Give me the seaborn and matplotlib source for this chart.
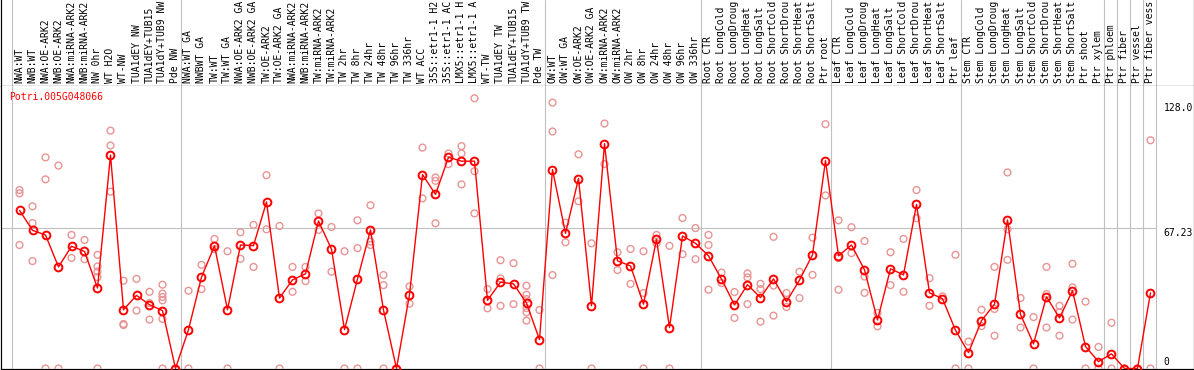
import matplotlib
matplotlib.use("Agg")
import matplotlib.pyplot as plt
import numpy as np
import pandas as pd
import seaborn as sns

gene_id = "Potri.005G048066"

categories = [
    "NWA:WT", "NWB:WT", "NWA:OE-ARK2", "NWB:OE-ARK2", "NWA:miRNA-ARK2", "NWB:miRNA-ARK2",
    "NW 0hr", "WT H2O", "WT-NW", "TUA1dEY NW", "TUA1dEY+TUB15 NW", "TUA1dY+TUB9 NW", "Pde NW",
    "NWA:WT GA", "NWBWT GA", "TW:WT", "TW:WT GA", "NWA:OE-ARK2 GA", "NWB:OE-ARK2 GA",
    "TW:OE-ARK2", "TW:OE-ARK2 GA", "NWA:miRNA-ARK2 GA", "NWB:miRNA-ARK2 GA", "TW:miRNA-ARK2",
    "TW:miRNA-ARK2 GA", "TW 2hr", "TW 8hr", "TW 24hr", "TW 48hr", "TW 96hr", "TW 336hr", "WT ACC",
    "35S::etr1-1 H2O", "35S::etr1-1 ACC", "LMX5::etr1-1 H2O", "LMX5::etr1-1 ACC", "WT-TW",
    "TUA1dEY TW", "TUA1dEY+TUB15 TW", "TUA1dY+TUB9 TW", "Pde TW",
    "OW:WT", "OW:WT GA", "OW:OE-ARK2", "OW:OE-ARK2 GA", "OW:miRNA-ARK2", "OW:miRNA-ARK2 GA",
    "OW 2hr", "OW 8hr", "OW 24hr", "OW 48hr", "OW 96hr", "OW 336hr",
    "Root CTR", "Root LongCold", "Root LongDrought", "Root LongHeat", "Root LongSalt",
    "Root ShortCold", "Root ShortDrought", "Root ShortHeat", "Root ShortSalt", "Ptr root",
    "Leaf CTR", "Leaf LongCold", "Leaf LongDrought", "Leaf LongHeat", "Leaf LongSalt",
    "Leaf ShortCold", "Leaf ShortDrought", "Leaf ShortHeat", "Leaf ShortSalt", "Ptr leaf",
    "Stem CTR", "Stem LongCold", "Stem LongDrought", "Stem LongHeat", "Stem LongSalt",
    "Stem ShortCold", "Stem ShortDrought", "Stem ShortHeat", "Stem ShortSalt", "Ptr shoot",
    "Ptr xylem", "Ptr phloem", "Ptr fiber", "Ptr vessel", "Ptr fiber vessel",
]

mean_expr = [
    75.7, 66.1, 63.9, 48.6, 58.5, 56.0, 38.5, 102.1, 28.1, 35.0, 30.5, 27.7, 0.0,
    18.6, 43.7, 58.7, 28.1, 59.1, 58.8, 79.7, 33.7, 42.4, 45.3, 70.6, 57.1, 18.6, 42.8,
    66.3, 28.0, 0.0, 35.3, 92.8, 83.3, 101.1, 99.2, 99.2, 32.6, 41.3, 40.5, 31.3, 13.8,
    95.2, 64.7, 90.9, 30.0, 107.6, 51.5, 49.1, 30.8, 61.8, 19.6, 63.4, 59.9,
    53.9, 42.8, 30.4, 40.1, 33.9, 42.9, 32.0, 42.3, 54.4, 99.5,
    53.9, 59.1, 47.2, 23.2, 47.7, 44.8, 78.5, 36.2, 33.4, 18.3,
    7.6, 22.9, 30.8, 71.1, 25.9, 11.8, 34.3, 24.2, 37.2, 10.5,
    3.3, 7.0, 0.0, 0.0, 36.2,
]

replicates = [
    [85.4, 83.8, 59.1], [77.6, 69.6, 51.4], [101.0, 90.5, 0.0], [97.1, 0.0], [63.9, 52.9],
    [61.5, 52.3], [54.4, 48.8, 46.4, 43.7, 0.0], [113.8, 106.7, 84.6], [42.0, 21.3, 20.8],
    [42.9, 27.7], [36.7, 31.3, 23.4], [40.1, 35.8, 34.2, 32.6, 23.7, 0.0], [0.0, 0.0],
    [37.2, 0.0], [49.6, 38.0], [62.0, 57.1], [56.1, 0.0], [65.2, 52.5], [68.7, 48.6],
    [92.5, 66.6], [68.2, 0.0], [48.6, 36.7], [48.6, 41.8], [74.2, 66.3], [67.7, 46.3],
    [56.1, 0.0], [70.9, 57.6, 0.0], [78.1, 60.7, 59.1], [44.7, 39.9, 0.0], [0.0, 0.0],
    [39.3, 31.0], [105.7, 81.4], [91.4, 89.8, 69.5], [102.9, 97.8], [106.4, 102.9, 88.1],
    [129.3, 94.4, 74.2], [38.0, 28.8], [51.8, 43.1, 30.0], [50.4, 30.8],
    [39.6, 35.3, 33.2, 28.9, 26.9, 22.9], [28.0, 0.0],
    [127.2, 113.4, 44.7], [69.8, 60.4], [102.5, 80.0], [59.9, 0.0], [117.2, 97.8],
    [55.6, 47.1], [57.2, 40.5], [56.1, 36.1, 0.0], [63.9, 59.9], [58.7, 0.0], [72.0, 54.7],
    [67.2, 52.3],
    [63.9, 59.1, 37.7], [45.9, 40.9], [36.6, 24.2], [45.5, 43.6, 30.8], [40.5, 38.0, 22.4],
    [63.0, 39.7, 25.3], [36.1, 29.4], [46.3, 33.7], [62.6, 44.8], [116.9, 82.8],
    [70.9, 52.8, 37.7], [67.6, 55.2], [61.0, 44.0, 36.2], [26.6, 20.2], [55.6, 39.9],
    [62.0, 36.7], [85.4, 71.9], [43.2, 30.0], [34.5], [54.4, 0.0],
    [12.9, 0.0], [28.1, 20.3], [48.6, 28.5, 15.7], [93.8, 66.6, 52.0], [33.7, 19.6],
    [24.6, 0.0], [48.6, 35.6, 19.6], [30.0, 26.9, 15.7], [50.1, 38.8, 23.4], [32.0, 0.0],
    [10.3, 0.0], [21.9, 0.0], [0.0, 0.0], [0.0, 0.0], [109.2, 0.0],
]

# last sample index of each block (vertical separators)
group_ends = [-1, 12, 40, 52, 62, 72, 83, 84, 85, 86, 87]
ref_value = 67.23
axis_labels = ["128.0", "67.23", "0"]
max_label_chars = 14  # header band only shows this many characters

sns.set_style("white")
plt.rcParams["font.family"] = ["DejaVu Sans Mono"]
plt.rcParams["font.size"] = 7.0

W, H = 1194, 370
LAB_H = 86
fig = plt.figure(figsize=(W / 100, H / 100), dpi=100)
ax_lab = fig.add_axes([0.5 / W, (H - LAB_H) / H, (W - 1) / W, LAB_H / H])
ax = fig.add_axes([0.5 / W, 1 / H, (W - 1) / W, (369 - LAB_H) / H])

# pixel -> data mapping: sample i at x = 19.5 + 13*i, value 0 at y=368.5, 2.09 px per unit
xlim = ((0.5 - 19.5) / 13, (1193.5 - 19.5) / 13)
ylim = ((368.5 - 369) / 2.09, (368.5 - LAB_H) / 2.09)

grid_c = "#C0C0C0"
px = 0.72

# replicate points
df_rep = pd.DataFrame([(i, v) for i, reps in enumerate(replicates) for v in reps],
                      columns=["pos", "value"])
sns.scatterplot(data=df_rep, x="pos", y="value", ax=ax, marker="o", s=24,
                facecolor="none", edgecolor="#E89494", linewidth=1.0, zorder=3, legend=False)

# mean line
df_mean = pd.DataFrame({"pos": np.arange(len(mean_expr)), "value": mean_expr})
sns.lineplot(data=df_mean, x="pos", y="value", ax=ax, color="red", linewidth=1.0,
             marker="o", markersize=5.6, markerfacecolor="none", markeredgecolor="red",
             markeredgewidth=1.4, zorder=4, legend=False)

for a in (ax, ax_lab):
    for g in group_ends:
        a.axvline(g + 0.4, color=grid_c, lw=1.1 * px, zorder=1)
    a.set_xlim(*xlim)
    a.set_xticks([])
    a.set_yticks([])
    a.set(xlabel="", ylabel="")
    for s in a.spines.values():
        s.set_color("black")
        s.set_linewidth(1.2 * px)
    a.spines["top"].set_visible(False)

ax.set_ylim(*ylim)
ax_lab.set_ylim(0, 1)
ax.hlines(ref_value, xlim[0], group_ends[-1] + 0.4, color=grid_c, lw=1.1 * px, zorder=1)

# sample labels in the header band
for i, name in enumerate(categories):
    ax_lab.text(i, 0.03, name[:max_label_chars].rstrip(), rotation=90, ha="center",
                va="bottom", color="black", clip_on=True)

# gene id
ax.annotate(gene_id, xy=(0, 1), xycoords="axes fraction", xytext=(9 * px, -11 * px),
            textcoords="offset points", ha="left", va="center", color="red")

# value labels on the right
label_x = group_ends[-1] + 1
ax.annotate(axis_labels[0], xy=(label_x, 128.0), xytext=(0, -7 * px), textcoords="offset points",
            ha="left", va="center", color="black")
ax.annotate(axis_labels[1], xy=(label_x, ref_value), xytext=(0, -5 * px), textcoords="offset points",
            ha="left", va="center", color="black")
ax.annotate(axis_labels[2], xy=(label_x, 0), xytext=(0, 6.5 * px), textcoords="offset points",
            ha="left", va="center", color="black")

fig.savefig("out.png", dpi=100)
